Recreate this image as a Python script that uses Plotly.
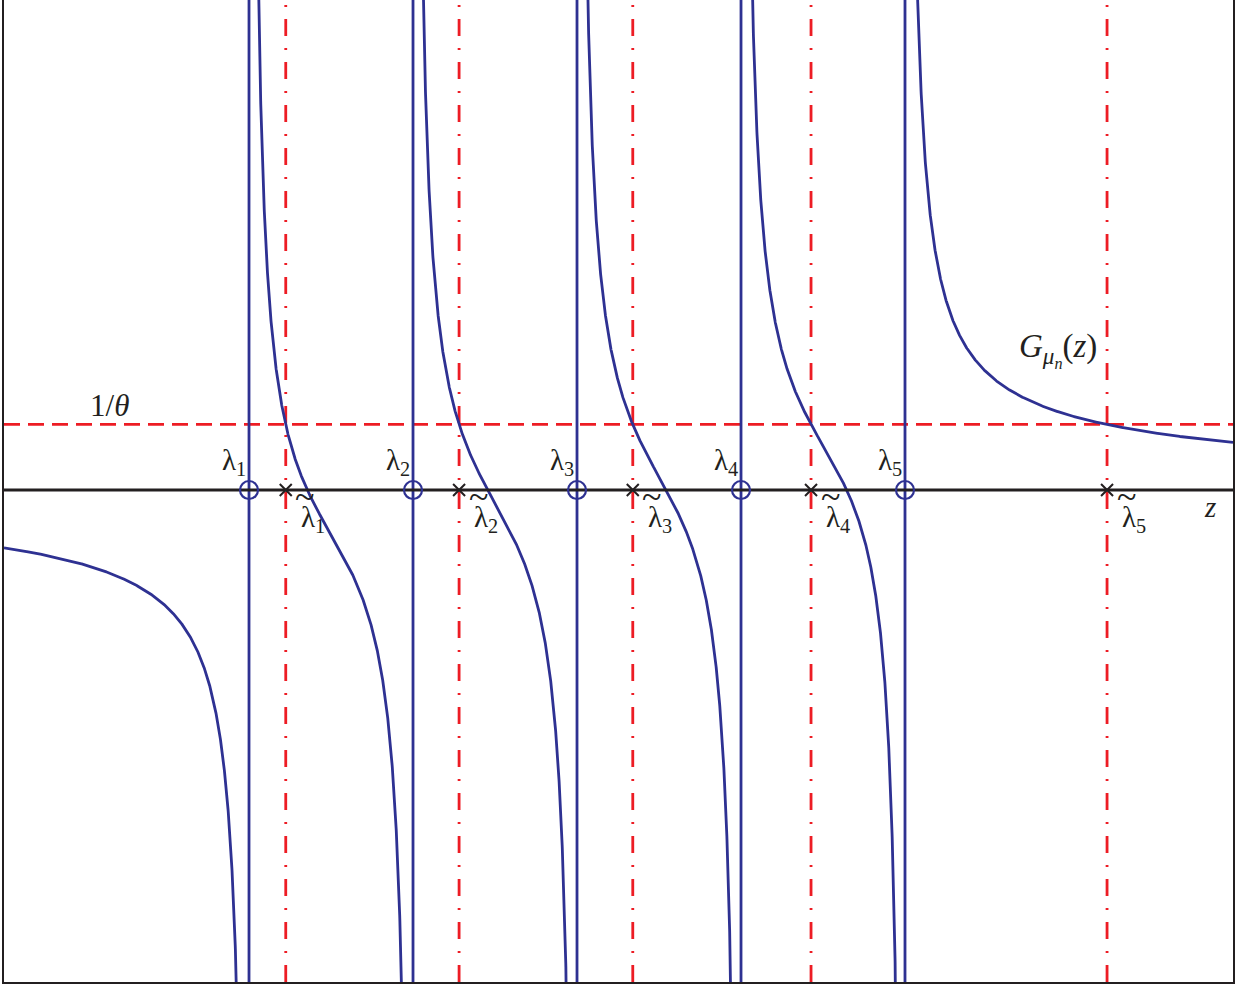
import numpy as np
import plotly.graph_objects as go

# eigenvalues (poles) and the solutions of G(z) = 1/theta
lambdas = [1.0, 2.0, 3.0, 4.0, 5.0]
lambdas_tilde = [1.224, 2.281, 3.340, 4.427, 6.232]
inv_theta = 0.40

x_min, x_max = -0.494, 7.0
y_min, y_max = -3.0, 2.988

blue = "#2E3192"
red = "#ED1C24"
black = "#231F20"


def stieltjes(z):
    return np.mean([1.0 / (z - l) for l in lambdas], axis=0)


fig = go.Figure()

# red horizontal 1/theta line
fig.add_trace(go.Scatter(x=[x_min, x_max], y=[inv_theta, inv_theta], mode="lines",
                         line=dict(color=red, width=2.8, dash="16px,8px"), hoverinfo="skip"))

# red dash-dot verticals at the lambda tilde
for lt in lambdas_tilde:
    fig.add_trace(go.Scatter(x=[lt, lt], y=[y_min, y_max], mode="lines",
                             line=dict(color=red, width=2.8, dash="17px,12px,2px,12px"),
                             hoverinfo="skip"))

# blue verticals at the poles
for l in lambdas:
    fig.add_trace(go.Scatter(x=[l, l], y=[y_min, y_max], mode="lines",
                             line=dict(color=blue, width=2.8), hoverinfo="skip"))

# the curve, one branch between each pair of poles
edges = [x_min] + lambdas + [x_max]
for a, b in zip(edges[:-1], edges[1:]):
    lo = a + 1e-3 if a in lambdas else a
    hi = b - 1e-3 if b in lambdas else b
    t = np.linspace(0, 1, 1500)
    # denser sampling near the poles
    s = 0.5 - 0.5 * np.cos(np.pi * t)
    z = lo + (hi - lo) * s
    fig.add_trace(go.Scatter(x=z, y=stieltjes(z), mode="lines",
                             line=dict(color=blue, width=2.8), hoverinfo="skip"))

# real axis
fig.add_trace(go.Scatter(x=[x_min, x_max], y=[0, 0], mode="lines",
                         line=dict(color=black, width=3), hoverinfo="skip"))

# markers
fig.add_trace(go.Scatter(x=lambdas, y=[0] * len(lambdas), mode="markers",
                         marker=dict(symbol="circle-open", size=18, color=blue,
                                     line=dict(width=2.2, color=blue)), hoverinfo="skip"))
fig.add_trace(go.Scatter(x=lambdas_tilde, y=[0] * len(lambdas_tilde), mode="markers",
                         marker=dict(symbol="x-thin-open", size=12, color=black,
                                     line=dict(width=2, color=black)), hoverinfo="skip"))

font = dict(family="Liberation Serif", size=29, color=black)
tfont = dict(family="Liberation Serif", size=36, color=black)
notes = []
for i, l in enumerate(lambdas):
    notes.append(dict(x=l, y=0, text="λ<sub>%d</sub>" % (i + 1), showarrow=False,
                      xshift=-15, yshift=28, font=font))
for i, lt in enumerate(lambdas_tilde):
    notes.append(dict(x=lt, y=0, text="λ<sub>%d</sub>" % (i + 1), showarrow=False,
                      xshift=27, yshift=-29, font=font))
    notes.append(dict(x=lt, y=0, text="~", showarrow=False,
                      xshift=19, yshift=-7, font=tfont))
notes.append(dict(x=0.152, y=0.518, text="1/<i>θ</i>", showarrow=False,
                  font=dict(family="Liberation Serif", size=31, color=black)))
notes.append(dict(x=5.93, y=0.854, text="<i>G</i><sub><i>μ<sub>n</sub></i></sub>(<i>z</i>)",
                  showarrow=False, font=dict(family="Liberation Serif", size=33, color=black)))
notes.append(dict(x=6.86, y=-0.104, text="<i>z</i>", showarrow=False, font=font))

fig.update_layout(
    width=1250, height=987,
    margin=dict(l=4, r=17, t=0, b=5),
    paper_bgcolor="white", plot_bgcolor="white",
    showlegend=False,
    annotations=notes,
    xaxis=dict(range=[x_min, x_max], showgrid=False, zeroline=False, showticklabels=False,
               ticks="", showline=True, linecolor=black, linewidth=2, mirror=False),
    yaxis=dict(range=[y_min, y_max], showgrid=False, zeroline=False, showticklabels=False,
               ticks="", showline=True, linecolor=black, linewidth=2, mirror=True),
)

fig.write_html("out.html", config={"displayModeBar": False},
               post_script="document.body.style.margin='0';")
